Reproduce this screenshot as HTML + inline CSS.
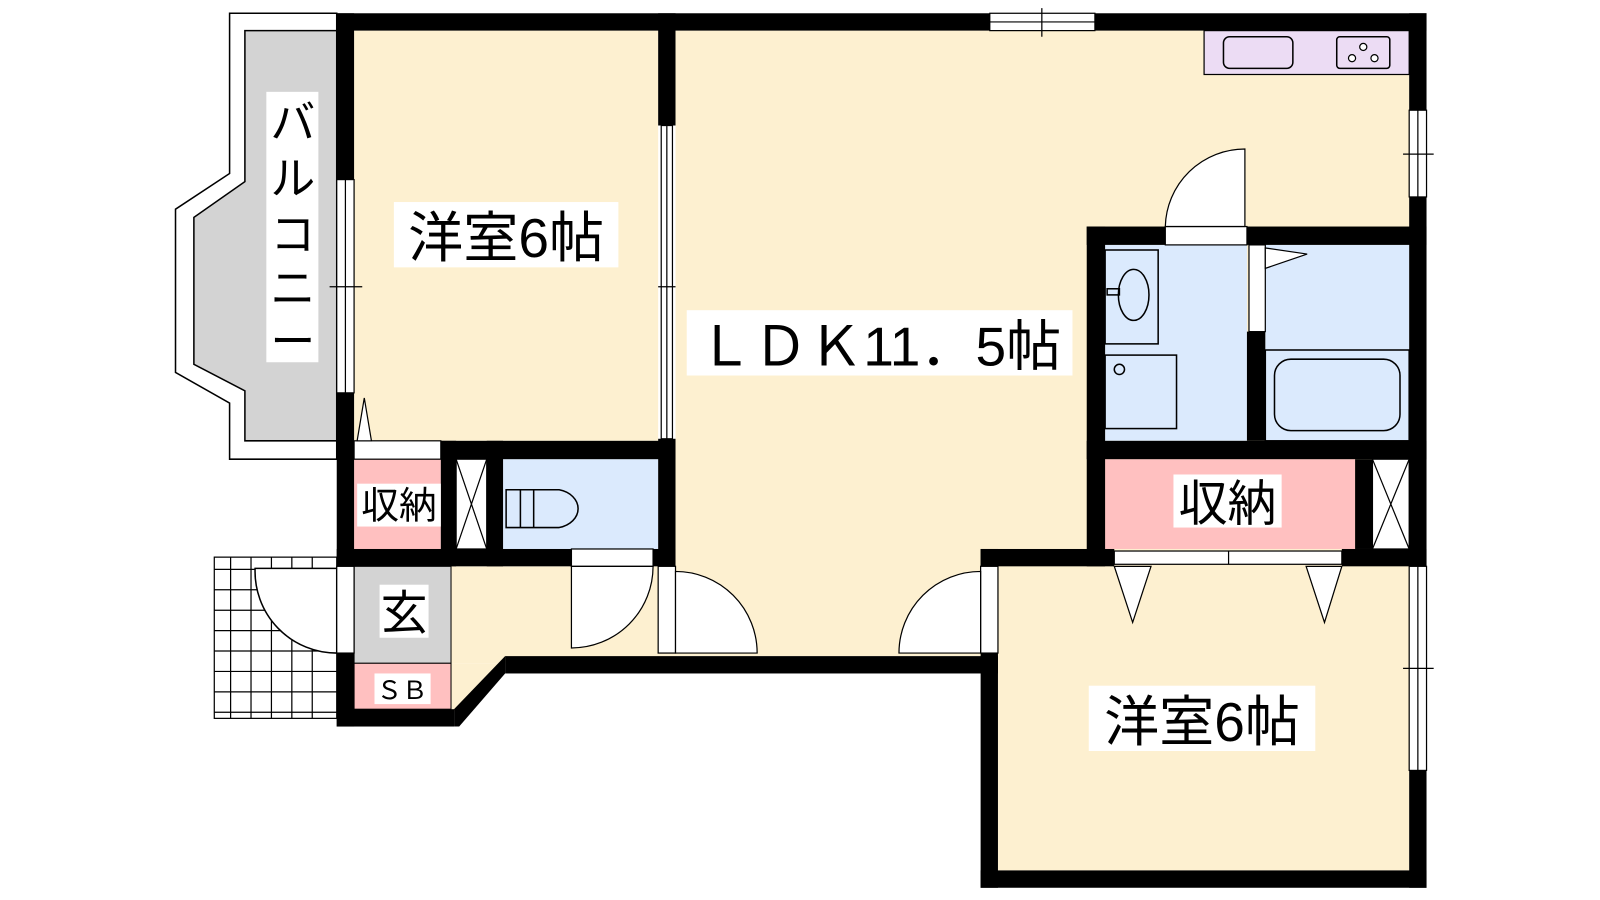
<!DOCTYPE html>
<html><head><meta charset="utf-8"><style>
html,body{margin:0;padding:0;background:#fff;width:1600px;height:900px;overflow:hidden}
svg{display:block}
text{font-family:"Liberation Sans","Noto Sans CJK JP",sans-serif;fill:#000}
</style></head><body>
<svg width="1600" height="900" viewBox="0 0 1568 882" xmlns="http://www.w3.org/2000/svg">
<!-- balcony -->
<polygon points="225,13 330,13 330,450 225,450 225,395 172,365 172,205 225,170" fill="#fff" stroke="#000" stroke-width="1.5"/>
<polygon points="240,30 330,30 330,432 240,432 240,383 190,357 190,213 240,178" fill="#d3d3d3" stroke="#000" stroke-width="1.5"/>
<!-- entrance tiles -->
<g stroke="#000" stroke-width="1.2" fill="#fff">
<rect x="210" y="546" width="120" height="158"/>
<path d="M210,558H330M210,578H330M210,598H330M210,618H330M210,638H330M210,658H330M210,678H330M210,698H330M226,546V704M246,546V704M266,546V704M286,546V704M306,546V704"/>
</g>
<path d="M250,557 H330 V640 A80,80 0 0 1 250,557 Z" fill="#fff" stroke="#000" stroke-width="1.5"/>
<!-- floors -->
<rect x="347" y="30" width="298" height="402" fill="#fdf0d0"/>
<rect x="662" y="30" width="719" height="613" fill="#fdf0d0"/>
<rect x="442" y="555" width="220" height="95" fill="#fdf0d0"/>
<polygon points="442,650 495,650 442,700" fill="#fdf0d0"/>
<rect x="978" y="555" width="403" height="298" fill="#fdf0d0"/>
<rect x="347" y="555" width="95" height="95" fill="#d3d3d3" stroke="#000" stroke-width="1"/>
<rect x="347" y="650" width="95" height="45" fill="#ffc0c0" stroke="#000" stroke-width="1"/>
<rect x="347" y="450" width="85" height="88" fill="#ffc0c0"/>
<rect x="493" y="450" width="152" height="88" fill="#dbeafd"/>
<rect x="1083" y="240" width="139" height="192" fill="#dbeafd"/>
<rect x="1240" y="240" width="141" height="192" fill="#dbeafd"/>
<rect x="1083" y="450" width="245" height="88" fill="#ffc0c0"/>
<rect x="1180" y="30" width="201" height="43" fill="#ecdcf4" stroke="#000" stroke-width="1.2"/>
<rect x="1199" y="36" width="68" height="31" rx="6" fill="none" stroke="#000" stroke-width="1.5"/>
<rect x="1310" y="36" width="52" height="31" rx="3" fill="none" stroke="#000" stroke-width="1.5"/>
<g fill="#fff" stroke="#000" stroke-width="1.2"><circle cx="1325" cy="57" r="3.5"/><circle cx="1336" cy="46" r="3.5"/><circle cx="1347" cy="57" r="3.5"/></g>
<!-- walls -->
<g fill="#000">
<rect x="330" y="13" width="640" height="17"/>
<rect x="1073" y="13" width="325" height="17"/>
<rect x="1381" y="13" width="17" height="95"/>
<rect x="1381" y="193" width="17" height="362"/>
<rect x="1381" y="755" width="17" height="115"/>
<rect x="330" y="13" width="17" height="163"/>
<rect x="330" y="385" width="17" height="170"/>
<rect x="330" y="640" width="17" height="72"/>
<rect x="330" y="695" width="115" height="17"/>
<polygon points="445,695 495,643 495,660 450,712 445,712"/>
<rect x="495" y="643" width="483" height="17"/>
<rect x="961" y="538" width="17" height="20"/>
<rect x="961" y="640" width="17" height="230"/>
<rect x="961" y="853" width="437" height="17"/>
<rect x="961" y="538" width="131" height="17"/>
<rect x="1315" y="538" width="83" height="17"/>
<rect x="645" y="13" width="17" height="110"/>
<rect x="645" y="430" width="17" height="125"/>
<rect x="432" y="432" width="230" height="18"/>
<rect x="432" y="432" width="15" height="123"/>
<rect x="477" y="432" width="16" height="123"/>
<rect x="330" y="538" width="230" height="17"/>
<rect x="640" y="538" width="22" height="17"/>
<rect x="1065" y="222" width="18" height="333"/>
<rect x="1065" y="222" width="77" height="18"/>
<rect x="1222" y="222" width="176" height="18"/>
<rect x="1222" y="325" width="18" height="107"/>
<rect x="1065" y="432" width="333" height="18"/>
<rect x="1328" y="450" width="17" height="88"/>
</g>
<!-- windows & openings -->
<g fill="#fff" stroke="#000" stroke-width="1.2">
<rect x="970" y="13" width="103" height="17"/><path d="M970,21.5H1073M1021,8V36"/>
<rect x="1381" y="108" width="17" height="85"/><path d="M1389.5,108V193M1375,151H1405"/>
<rect x="1381" y="555" width="17" height="200"/><path d="M1389.5,555V755M1375,655H1405"/>
<rect x="330" y="176" width="17" height="209"/><path d="M338.5,176V385M323,281H355"/>
<rect x="648" y="123" width="11" height="307"/><path d="M653.5,123V430M645,281H662"/>
<rect x="347" y="432" width="85" height="18"/>
<rect x="447" y="450" width="30" height="88"/><path d="M447,450L477,538M477,450L447,538"/>
<rect x="1345" y="450" width="36" height="88"/><path d="M1345,450L1381,538M1381,450L1345,538"/>
<rect x="1092" y="540" width="223" height="13"/><path d="M1204,540V553"/>
<rect x="560" y="538" width="80" height="17"/>
<rect x="1142" y="222" width="80" height="18"/>
<rect x="330" y="555" width="17" height="85"/>
<rect x="645" y="555" width="17" height="85"/>
<rect x="961" y="555" width="17" height="85"/>
<rect x="1224" y="240" width="16" height="85"/>
<polygon points="350,432 364,432 357,390"/>
<polygon points="1240,243 1240,263 1281,249"/>
<polygon points="1092,555 1128,555 1110,610"/>
<polygon points="1280,555 1315,555 1298,610"/>
<path d="M560,555 H640 A80,80 0 0 1 560,635 Z"/>
<path d="M662,640 V560 A80,80 0 0 1 742,640 Z"/>
<path d="M961,640 V560 A80,80 0 0 0 881,640 Z"/>
<path d="M1142,222 A78,78 0 0 1 1220,146 V222 Z"/>
</g>
<!-- fixtures -->
<g fill="none" stroke="#000" stroke-width="1.5">
<rect x="1083" y="245" width="52" height="92"/>
<ellipse cx="1111" cy="289" rx="15" ry="25"/>
<rect x="1085" y="283" width="12" height="6"/>
<rect x="1083" y="348" width="70" height="72"/>
<circle cx="1097" cy="362" r="5"/>
<rect x="1240" y="343" width="141" height="89"/>
<rect x="1249" y="352" width="123" height="70" rx="16"/>
<path d="M496,480H548A24,19 0 0 1 548,517H496Z"/>
<path d="M510,480V517M523,480V517"/>
</g>
<!-- labels -->
<rect x="261" y="90" width="51" height="265" fill="#fff"/>
<g font-size="44" text-anchor="middle">
<text x="287" y="135">バ</text><text x="287" y="190">ル</text><text x="287" y="245">コ</text><text x="287" y="298">ニ</text><text x="287" y="350">ー</text>
</g>
<rect x="386" y="198" width="220" height="64" fill="#fff"/>
<text x="496" y="252" font-size="54" text-anchor="middle">洋室6帖</text>
<rect x="673" y="304" width="378" height="64" fill="#fff"/>
<text x="862" y="358" font-size="54" text-anchor="middle">ＬＤＫ11．5帖</text>
<rect x="1067" y="672" width="222" height="64" fill="#fff"/>
<text x="1178" y="726" font-size="54" text-anchor="middle">洋室6帖</text>
<rect x="1150" y="465" width="106" height="52" fill="#fff"/>
<text x="1203" y="510" font-size="48" text-anchor="middle">収納</text>
<rect x="350" y="474" width="82" height="42" fill="#fff"/>
<text x="391" y="508" font-size="37" text-anchor="middle">収納</text>
<rect x="372" y="573" width="48" height="52" fill="#fff"/>
<text x="396" y="617" font-size="46" text-anchor="middle">玄</text>
<rect x="367" y="660" width="55" height="30" fill="#fff"/>
<text x="394" y="685" font-size="25" text-anchor="middle">ＳＢ</text>
</svg>
</body></html>
